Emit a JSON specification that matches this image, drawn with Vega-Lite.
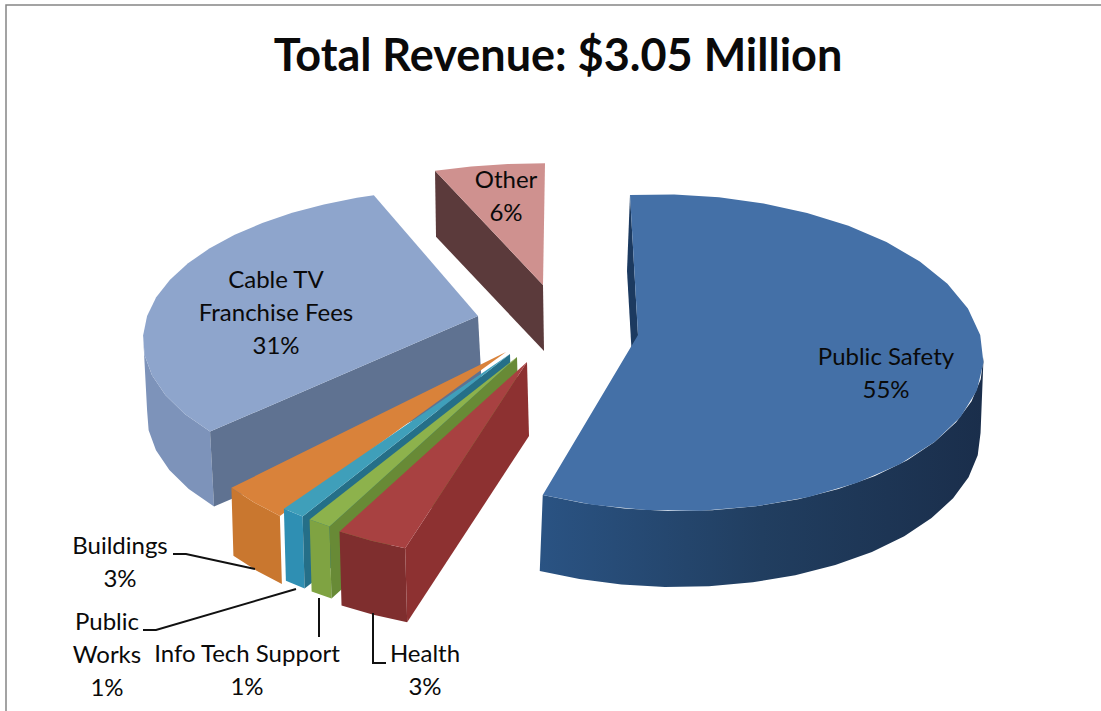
{"$schema":"https://vega.github.io/schema/vega-lite/v6.json","width":1100,"height":712,"autosize":"none","padding":{"left":6,"top":5,"right":0,"bottom":0},"background":"white","config":{"view":{"stroke":"#858585","strokeWidth":1.5}},"title":{"text":"Total Revenue: $3.05 Million","font":"Lato","fontSize":45,"fontWeight":"bold","color":"#0a0a0a","anchor":"middle","dy":79,"dx":2},"layer":[{"data":{"values":[
{"slice":"Other","face":"wall","pct":94,"r":0,"z":0},{"slice":"Other","face":"wall","pct":94,"r":1,"z":0},{"slice":"Other","face":"wall","pct":94,"r":1,"z":1},{"slice":"Other","face":"wall","pct":94,"r":0,"z":1},
{"slice":"Other","face":"top","pct":94,"r":0,"z":0},{"slice":"Other","face":"top","pct":94,"r":1,"z":0},{"slice":"Other","face":"top","pct":96,"r":1,"z":0},{"slice":"Other","face":"top","pct":98,"r":1,"z":0},{"slice":"Other","face":"top","pct":100,"r":1,"z":0},
{"slice":"Cable TV","face":"side","pct":63,"r":1,"z":0},{"slice":"Cable TV","face":"side","pct":65,"r":1,"z":0},{"slice":"Cable TV","face":"side","pct":67,"r":1,"z":0},{"slice":"Cable TV","face":"side","pct":69,"r":1,"z":0},{"slice":"Cable TV","face":"side","pct":71,"r":1,"z":0},{"slice":"Cable TV","face":"side","pct":73,"r":1,"z":0},{"slice":"Cable TV","face":"side","pct":73,"r":1,"z":1},{"slice":"Cable TV","face":"side","pct":71,"r":1,"z":1},{"slice":"Cable TV","face":"side","pct":69,"r":1,"z":1},{"slice":"Cable TV","face":"side","pct":67,"r":1,"z":1},{"slice":"Cable TV","face":"side","pct":65,"r":1,"z":1},{"slice":"Cable TV","face":"side","pct":63,"r":1,"z":1},
{"slice":"Cable TV","face":"wall","pct":63,"r":0,"z":0},{"slice":"Cable TV","face":"wall","pct":63,"r":1,"z":0},{"slice":"Cable TV","face":"wall","pct":63,"r":1,"z":1},{"slice":"Cable TV","face":"wall","pct":63,"r":0,"z":1},
{"slice":"Cable TV","face":"top","pct":63,"r":0,"z":0},{"slice":"Cable TV","face":"top","pct":63,"r":1,"z":0},{"slice":"Cable TV","face":"top","pct":65,"r":1,"z":0},{"slice":"Cable TV","face":"top","pct":67,"r":1,"z":0},{"slice":"Cable TV","face":"top","pct":69,"r":1,"z":0},{"slice":"Cable TV","face":"top","pct":71,"r":1,"z":0},{"slice":"Cable TV","face":"top","pct":73,"r":1,"z":0},{"slice":"Cable TV","face":"top","pct":75,"r":1,"z":0},{"slice":"Cable TV","face":"top","pct":77,"r":1,"z":0},{"slice":"Cable TV","face":"top","pct":79,"r":1,"z":0},{"slice":"Cable TV","face":"top","pct":81,"r":1,"z":0},{"slice":"Cable TV","face":"top","pct":83,"r":1,"z":0},{"slice":"Cable TV","face":"top","pct":85,"r":1,"z":0},{"slice":"Cable TV","face":"top","pct":87,"r":1,"z":0},{"slice":"Cable TV","face":"top","pct":89,"r":1,"z":0},{"slice":"Cable TV","face":"top","pct":91,"r":1,"z":0},{"slice":"Cable TV","face":"top","pct":93,"r":1,"z":0},{"slice":"Cable TV","face":"top","pct":94,"r":1,"z":0},
{"slice":"Buildings","face":"side","pct":60,"r":1,"z":0},{"slice":"Buildings","face":"side","pct":61.5,"r":1,"z":0},{"slice":"Buildings","face":"side","pct":63,"r":1,"z":0},{"slice":"Buildings","face":"side","pct":63,"r":1,"z":1},{"slice":"Buildings","face":"side","pct":61.5,"r":1,"z":1},{"slice":"Buildings","face":"side","pct":60,"r":1,"z":1},
{"slice":"Buildings","face":"top","pct":60,"r":0,"z":0},{"slice":"Buildings","face":"top","pct":60,"r":1,"z":0},{"slice":"Buildings","face":"top","pct":61.5,"r":1,"z":0},{"slice":"Buildings","face":"top","pct":63,"r":1,"z":0},
{"slice":"Public Works","face":"side","pct":59,"r":1,"z":0},{"slice":"Public Works","face":"side","pct":60,"r":1,"z":0},{"slice":"Public Works","face":"side","pct":60,"r":1,"z":1},{"slice":"Public Works","face":"side","pct":59,"r":1,"z":1},
{"slice":"Public Works","face":"wall","pct":59,"r":0,"z":0},{"slice":"Public Works","face":"wall","pct":59,"r":1,"z":0},{"slice":"Public Works","face":"wall","pct":59,"r":1,"z":1},{"slice":"Public Works","face":"wall","pct":59,"r":0,"z":1},
{"slice":"Public Works","face":"top","pct":59,"r":0,"z":0},{"slice":"Public Works","face":"top","pct":59,"r":1,"z":0},{"slice":"Public Works","face":"top","pct":60,"r":1,"z":0},
{"slice":"Info Tech Support","face":"side","pct":58,"r":1,"z":0},{"slice":"Info Tech Support","face":"side","pct":59,"r":1,"z":0},{"slice":"Info Tech Support","face":"side","pct":59,"r":1,"z":1},{"slice":"Info Tech Support","face":"side","pct":58,"r":1,"z":1},
{"slice":"Info Tech Support","face":"wall","pct":58,"r":0,"z":0},{"slice":"Info Tech Support","face":"wall","pct":58,"r":1,"z":0},{"slice":"Info Tech Support","face":"wall","pct":58,"r":1,"z":1},{"slice":"Info Tech Support","face":"wall","pct":58,"r":0,"z":1},
{"slice":"Info Tech Support","face":"top","pct":58,"r":0,"z":0},{"slice":"Info Tech Support","face":"top","pct":58,"r":1,"z":0},{"slice":"Info Tech Support","face":"top","pct":59,"r":1,"z":0},
{"slice":"Health","face":"side","pct":55,"r":1,"z":0},{"slice":"Health","face":"side","pct":56.5,"r":1,"z":0},{"slice":"Health","face":"side","pct":58,"r":1,"z":0},{"slice":"Health","face":"side","pct":58,"r":1,"z":1},{"slice":"Health","face":"side","pct":56.5,"r":1,"z":1},{"slice":"Health","face":"side","pct":55,"r":1,"z":1},
{"slice":"Health","face":"wall","pct":55,"r":0,"z":0},{"slice":"Health","face":"wall","pct":55,"r":1,"z":0},{"slice":"Health","face":"wall","pct":55,"r":1,"z":1},{"slice":"Health","face":"wall","pct":55,"r":0,"z":1},
{"slice":"Health","face":"top","pct":55,"r":0,"z":0},{"slice":"Health","face":"top","pct":55,"r":1,"z":0},{"slice":"Health","face":"top","pct":56.5,"r":1,"z":0},{"slice":"Health","face":"top","pct":58,"r":1,"z":0},
{"slice":"Public Safety","face":"wall","pct":0,"r":0,"z":0},{"slice":"Public Safety","face":"wall","pct":0,"r":1,"z":0},{"slice":"Public Safety","face":"wall","pct":0,"r":1,"z":1},{"slice":"Public Safety","face":"wall","pct":0,"r":0,"z":1},
{"slice":"Public Safety","face":"side","pct":27,"r":1,"z":0},{"slice":"Public Safety","face":"side","pct":29,"r":1,"z":0},{"slice":"Public Safety","face":"side","pct":31,"r":1,"z":0},{"slice":"Public Safety","face":"side","pct":33,"r":1,"z":0},{"slice":"Public Safety","face":"side","pct":35,"r":1,"z":0},{"slice":"Public Safety","face":"side","pct":37,"r":1,"z":0},{"slice":"Public Safety","face":"side","pct":39,"r":1,"z":0},{"slice":"Public Safety","face":"side","pct":41,"r":1,"z":0},{"slice":"Public Safety","face":"side","pct":43,"r":1,"z":0},{"slice":"Public Safety","face":"side","pct":45,"r":1,"z":0},{"slice":"Public Safety","face":"side","pct":47,"r":1,"z":0},{"slice":"Public Safety","face":"side","pct":49,"r":1,"z":0},{"slice":"Public Safety","face":"side","pct":51,"r":1,"z":0},{"slice":"Public Safety","face":"side","pct":53,"r":1,"z":0},{"slice":"Public Safety","face":"side","pct":55,"r":1,"z":0},{"slice":"Public Safety","face":"side","pct":55,"r":1,"z":1},{"slice":"Public Safety","face":"side","pct":53,"r":1,"z":1},{"slice":"Public Safety","face":"side","pct":51,"r":1,"z":1},{"slice":"Public Safety","face":"side","pct":49,"r":1,"z":1},{"slice":"Public Safety","face":"side","pct":47,"r":1,"z":1},{"slice":"Public Safety","face":"side","pct":45,"r":1,"z":1},{"slice":"Public Safety","face":"side","pct":43,"r":1,"z":1},{"slice":"Public Safety","face":"side","pct":41,"r":1,"z":1},{"slice":"Public Safety","face":"side","pct":39,"r":1,"z":1},{"slice":"Public Safety","face":"side","pct":37,"r":1,"z":1},{"slice":"Public Safety","face":"side","pct":35,"r":1,"z":1},{"slice":"Public Safety","face":"side","pct":33,"r":1,"z":1},{"slice":"Public Safety","face":"side","pct":31,"r":1,"z":1},{"slice":"Public Safety","face":"side","pct":29,"r":1,"z":1},{"slice":"Public Safety","face":"side","pct":27,"r":1,"z":1},
{"slice":"Public Safety","face":"top","pct":0,"r":0,"z":0},{"slice":"Public Safety","face":"top","pct":0,"r":1,"z":0},{"slice":"Public Safety","face":"top","pct":2.5,"r":1,"z":0},{"slice":"Public Safety","face":"top","pct":5,"r":1,"z":0},{"slice":"Public Safety","face":"top","pct":7.5,"r":1,"z":0},{"slice":"Public Safety","face":"top","pct":10,"r":1,"z":0},{"slice":"Public Safety","face":"top","pct":12.5,"r":1,"z":0},{"slice":"Public Safety","face":"top","pct":15,"r":1,"z":0},{"slice":"Public Safety","face":"top","pct":17.5,"r":1,"z":0},{"slice":"Public Safety","face":"top","pct":20,"r":1,"z":0},{"slice":"Public Safety","face":"top","pct":22.5,"r":1,"z":0},{"slice":"Public Safety","face":"top","pct":25,"r":1,"z":0},{"slice":"Public Safety","face":"top","pct":27.5,"r":1,"z":0},{"slice":"Public Safety","face":"top","pct":30,"r":1,"z":0},{"slice":"Public Safety","face":"top","pct":32.5,"r":1,"z":0},{"slice":"Public Safety","face":"top","pct":35,"r":1,"z":0},{"slice":"Public Safety","face":"top","pct":37.5,"r":1,"z":0},{"slice":"Public Safety","face":"top","pct":40,"r":1,"z":0},{"slice":"Public Safety","face":"top","pct":42.5,"r":1,"z":0},{"slice":"Public Safety","face":"top","pct":45,"r":1,"z":0},{"slice":"Public Safety","face":"top","pct":47.5,"r":1,"z":0},{"slice":"Public Safety","face":"top","pct":50,"r":1,"z":0},{"slice":"Public Safety","face":"top","pct":52.5,"r":1,"z":0},{"slice":"Public Safety","face":"top","pct":55,"r":1,"z":0}
]},
"transform":[{"window":[{"op":"row_number","as":"n"}]},
{"calculate":"datum.slice+' '+datum.face","as":"piece"},
{"calculate":"{'Public Safety':[638,335,308,155.6,0.111,-0.1,-8,76,-3],'Health':[527,362,338,168,0.15,0,0,74,2],'Info Tech Support':[517,357,338,168,0.15,0,0,72,2],'Public Works':[510,354,338,168,0.15,0,0,72,2],'Buildings':[506,352,338,178,0.15,0,0,68,2],'Cable TV':[478,316,320,147,0.154,0.033,0,75,4],'Other':[543,285,340,140,0.15,0,2,66,1]}[datum.slice]","as":"g"},
{"calculate":"datum.pct*PI/50","as":"a"},
{"calculate":"1+datum.g[4]*cos(datum.a)+datum.g[5]*sin(datum.a)","as":"den"},
{"calculate":"datum.g[0]+datum.r*(datum.g[2]*sin(datum.a)/datum.den+datum.g[6]*cos(datum.a))+datum.z*datum.g[8]","as":"px"},
{"calculate":"datum.g[1]-datum.r*datum.g[3]*cos(datum.a)/datum.den+datum.z*datum.g[7]","as":"py"}],
"encoding":{"x":{"field":"px","type":"quantitative","scale":{"domain":[6,1106]},"axis":null},"y":{"field":"py","type":"quantitative","scale":{"domain":[5,717],"reverse":true},"axis":null},"order":{"field":"n","type":"quantitative"}},
"layer":[
{"transform":[{"filter":"datum.piece!='Public Safety side' && datum.piece!='Public Safety top'"}],"mark":{"type":"line","strokeWidth":0},"encoding":{"fill":{"field":"piece","type":"nominal","legend":null,"scale":{"domain":["Other wall","Other top","Cable TV side","Cable TV wall","Cable TV top","Buildings side","Buildings top","Public Works side","Public Works wall","Public Works top","Info Tech Support side","Info Tech Support wall","Info Tech Support top","Health side","Health wall","Health top","Public Safety wall"],"range":["#5b3a3b","#cf918f","#7d93ba","#5f7291","#8ea5cc","#c9772f","#d9823a","#2f8fb3","#256f88","#3f9fba","#7fa342","#688a36","#8db24c","#7f2e2e","#8d3131","#a84141","#1c3a60"]}}}},
{"transform":[{"filter":"datum.piece=='Public Safety side'"}],"mark":{"type":"line","strokeWidth":0,"fill":{"gradient":"linear","x1":0,"y1":0,"x2":1,"y2":0,"stops":[{"offset":0,"color":"#2a5383"},{"offset":0.5,"color":"#213e60"},{"offset":1,"color":"#1a2e4b"}]}}},
{"transform":[{"filter":"datum.piece=='Public Safety top'"}],"mark":{"type":"line","strokeWidth":0,"fill":"#4470a7"}}
]},
{"data":{"values":[{"slice":"Buildings","step":0},{"slice":"Buildings","step":1},{"slice":"Buildings","step":2},{"slice":"Public Works","step":0},{"slice":"Public Works","step":1},{"slice":"Public Works","step":2},{"slice":"Info Tech Support","step":0},{"slice":"Info Tech Support","step":1},{"slice":"Health","step":0},{"slice":"Health","step":1},{"slice":"Health","step":2}]},
"transform":[{"calculate":"{'Buildings':[505,352],'Public Works':[512,355],'Info Tech Support':[517,357],'Health':[527,362]}[datum.slice]","as":"tip"},
{"calculate":"{'Buildings':[[-332,202],[-319,202],[-250,217]],'Public Works':[[-369,275],[-356,275],[-216,234]],'Info Tech Support':[[-198,241],[-198,280]],'Health':[[-154,251],[-154,301],[-141,301]]}[datum.slice][datum.step]","as":"off"},
{"calculate":"datum.tip[0]+datum.off[0]","as":"px"},{"calculate":"datum.tip[1]+datum.off[1]","as":"py"}],
"mark":{"type":"line","color":"#111111","strokeWidth":2},
"encoding":{"x":{"field":"px","type":"quantitative","scale":{"domain":[6,1106]},"axis":null},"y":{"field":"py","type":"quantitative","scale":{"domain":[5,717],"reverse":true},"axis":null},"detail":{"field":"slice"},"order":{"field":"step","type":"quantitative"}}},
{"data":{"values":[{"slice":"Public Safety","label":"Public Safety","share":55},{"slice":"Cable TV","label":"Cable TV\nFranchise Fees","share":31},{"slice":"Other","label":"Other","share":6},{"slice":"Buildings","label":"Buildings","share":3},{"slice":"Public Works","label":"Public\nWorks","share":1},{"slice":"Info Tech Support","label":"Info Tech Support","share":1},{"slice":"Health","label":"Health","share":3}]},
"transform":[{"calculate":"datum.label+'\\n'+datum.share+'%'","as":"text"},
{"calculate":"{'Public Safety':[886,358],'Cable TV':[276,281],'Other':[506,181],'Buildings':[120,547],'Public Works':[107,623],'Info Tech Support':[247,655],'Health':[425,655]}[datum.slice]","as":"anchor"},
{"calculate":"datum.anchor[0]","as":"px"},{"calculate":"datum.anchor[1]","as":"py"}],
"mark":{"type":"text","font":"Lato","fontSize":24,"lineHeight":33,"lineBreak":"\n","align":"center","baseline":"middle","color":"#0a0a0a"},
"encoding":{"x":{"field":"px","type":"quantitative","scale":{"domain":[6,1106]},"axis":null},"y":{"field":"py","type":"quantitative","scale":{"domain":[5,717],"reverse":true},"axis":null},"text":{"field":"text","type":"nominal"}}}]}
